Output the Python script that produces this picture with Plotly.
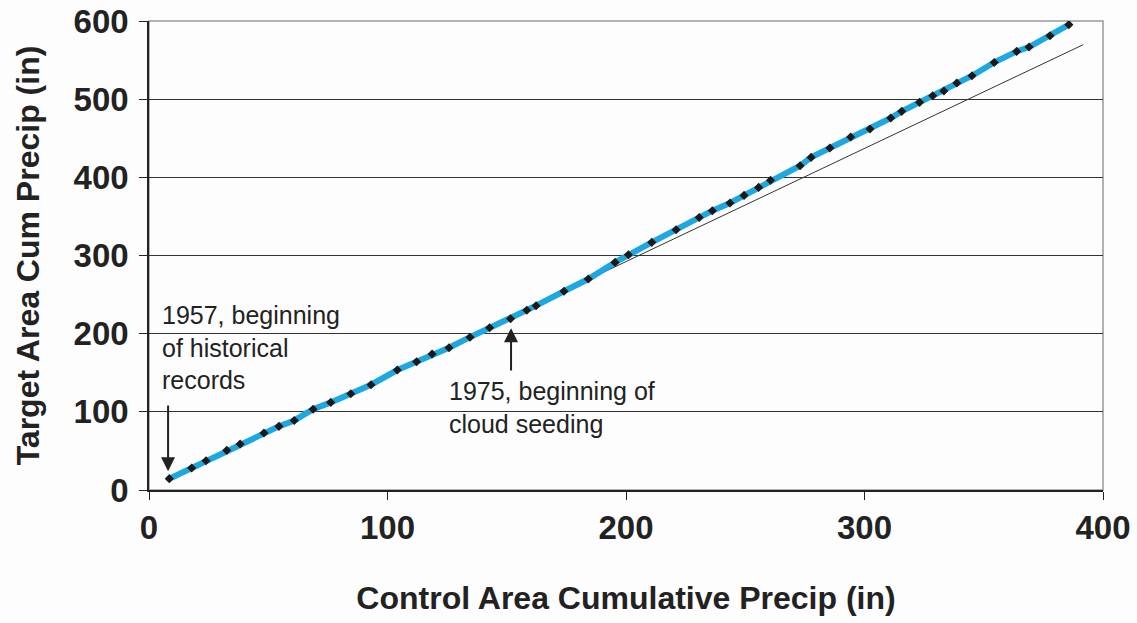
import plotly.graph_objects as go

# Cumulative precipitation, one point per year (1957 onward)
control_cum = [8.5, 17.9, 23.9, 32.6, 38.2, 48.2, 54.5, 60.9, 68.8, 76.2,
               84.6, 93.1, 104.1, 112.2, 118.7, 125.8, 134.6, 142.8, 151.6, 158.4,
               162.3, 174.0, 184.2, 195.4, 201.0, 210.8, 221.0, 230.7, 236.2, 243.6,
               249.5, 255.6, 260.6, 273.0, 277.6, 285.5, 294.2, 302.3, 311.0, 315.6,
               323.1, 328.6, 333.3, 338.7, 345.1, 354.4, 363.8, 369.0, 377.8, 385.7]
target_cum = [14.5, 28.1, 37.5, 50.7, 58.8, 72.9, 81.4, 89.0, 103.4, 112.1,
              123.2, 134.7, 153.5, 164.1, 174.0, 182.0, 195.5, 207.6, 219.1, 230.0,
              235.8, 254.3, 269.9, 291.2, 301.0, 316.8, 333.0, 348.7, 357.3, 367.2,
              376.9, 387.1, 396.3, 414.9, 425.5, 437.5, 451.6, 461.8, 475.9, 484.4,
              495.9, 504.4, 510.4, 520.7, 530.0, 547.0, 561.1, 566.7, 581.2, 595.3]

# Pre-seeding trend line (endpoints)
trend_x = [8.5, 391.7]
trend_y = [15.0, 569.7]

x_ticks = [0, 100, 200, 300, 400]
y_ticks = [0, 100, 200, 300, 400, 500, 600]

FONT = "Liberation Sans, Arial"
INK = "#222222"

fig = go.Figure()
fig.add_trace(go.Scatter(x=trend_x, y=trend_y, mode="lines",
                         line=dict(color="#333333", width=1), hoverinfo="skip"))
fig.add_trace(go.Scatter(x=control_cum, y=target_cum, mode="lines+markers",
                         line=dict(color="#1ea7e0", width=6),
                         marker=dict(symbol="diamond", size=7, color="#1a1a1a")))

fig.add_annotation(x=8, y=24, ax=8, ay=110, xref="x", yref="y", axref="x", ayref="y",
                   showarrow=True, arrowhead=2, arrowsize=1.4, arrowwidth=2,
                   arrowcolor=INK, text="", standoff=0)
fig.add_annotation(x=151.8, y=207, ax=151.8, ay=151, xref="x", yref="y", axref="x", ayref="y",
                   showarrow=True, arrowhead=2, arrowsize=1.4, arrowwidth=2,
                   arrowcolor=INK, text="", standoff=0)
fig.add_annotation(x=4.6, y=182, xref="x", yref="y", xanchor="left", yanchor="middle",
                   showarrow=False, align="left",
                   text="1957, beginning<br>of historical<br>records",
                   font=dict(family=FONT, size=25, color=INK))
fig.add_annotation(x=125, y=106, xref="x", yref="y", xanchor="left", yanchor="middle",
                   showarrow=False, align="left",
                   text="1975, beginning of<br>cloud seeding",
                   font=dict(family=FONT, size=25, color=INK))

title_font = dict(family=FONT, size=32, color=INK)
tick_font = dict(family=FONT, size=33, color=INK, weight="bold")
fig.update_layout(
    width=1137, height=623,
    margin=dict(l=149, r=34, t=21, b=133),
    paper_bgcolor="#fdfdfd", plot_bgcolor="#fdfdfd",
    showlegend=False,
    font=dict(family=FONT, color=INK),
    xaxis=dict(range=[0, 400], tickvals=x_ticks, showgrid=False, zeroline=False,
               showline=True, linecolor=INK, linewidth=1.5, automargin=False,
               ticks="outside", ticklen=8, tickcolor=INK,
               tickfont=tick_font, ticklabelstandoff=0, ticklabeloverflow="allow",
               title=dict(text="<b>Control Area Cumulative Precip (in)</b>", font=title_font, standoff=41)),
    yaxis=dict(range=[0, 600], tickvals=y_ticks, showgrid=True, gridcolor="#333333", gridwidth=1,
               zeroline=False, showline=True, linecolor=INK, linewidth=1.5, automargin=False,
               ticks="outside", ticklen=8, tickcolor=INK,
               tickfont=tick_font, ticklabelstandoff=4, ticklabeloverflow="allow",
               title=dict(text="<b>Target Area Cum Precip (in)</b>", font=title_font, standoff=24)),
)
# gray top/right frame
fig.add_shape(type="rect", xref="paper", yref="paper", x0=0, y0=0, x1=1, y1=1,
              line=dict(color="#999999", width=1.5), layer="below")

fig.write_html("out.html", config={"displayModeBar": False},
               post_script="document.body.style.margin='0';document.body.style.overflow='hidden';")
